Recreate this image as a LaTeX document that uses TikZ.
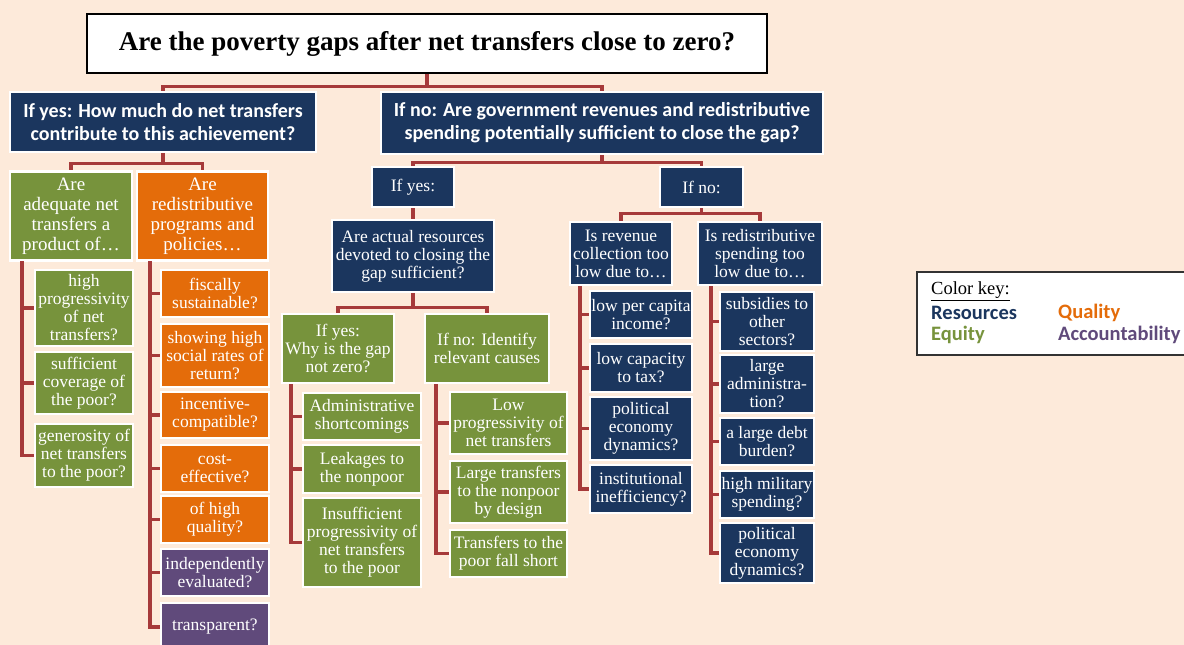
\documentclass[tikz,border=0pt]{standalone}
\usepackage{fontspec}
\setmainfont{Liberation Serif}
\newfontfamily\headfont{Carlito}
\usetikzlibrary{positioning}
\definecolor{peach}{HTML}{FDEADA}
\definecolor{navyq}{HTML}{1B365E}
\definecolor{greenq}{HTML}{77933C}
\definecolor{orangeq}{HTML}{E46C0A}
\definecolor{purpleq}{HTML}{604A7B}
\definecolor{linkred}{RGB}{166,58,58}
\tikzset{
  rootbox/.style={
    draw=black,
    fill=white,
    line width=2.8pt,
    align=center,
    inner sep=2pt,
    font=\bfseries\fontsize{27}{30}\selectfont
  },
  headbox/.style={
    draw=white,
    fill=navyq,
    line width=2.5pt,
    align=center,
    text=white,
    inner sep=1pt,
    font=\headfont\bfseries\fontsize{20}{23}\selectfont
  },
  qbox/.style={
    draw=white,
    line width=2.5pt,
    align=center,
    text=white,
    inner sep=1pt,
    font=\fontsize{17.5}{18}\selectfont
  },
  navybox/.style={qbox, fill=navyq},
  greenbox/.style={qbox, fill=greenq},
  orangebox/.style={qbox, fill=orangeq},
  purplebox/.style={qbox, fill=purpleq},
  bigq/.style={font=\fontsize{19}{20}\selectfont},
  keyframe/.style={
    draw=black!80,
    fill=white,
    line width=1.4pt
  },
  keylabel/.style={
    anchor=west,
    inner sep=0pt,
    font=\headfont\bfseries\fontsize{20.5}{22}\selectfont
  },
  link/.style={
    draw=linkred,
    line width=3.4pt
  }
}

\begin{document}
\begin{tikzpicture}[x=1pt,y=-1pt]
  \fill[peach] (0,0) rectangle (1184,645);
  \useasboundingbox (0,0) rectangle (1184,645);

  % top question
  \node[rootbox, minimum width=680pt, minimum height=59pt] (root) at (427,43.5)
    {Are the poverty gaps after net transfers close to zero?};
  \node[headbox, minimum width=306pt, minimum height=60pt] (yeshead) at (163,122)
    {If yes: How much do net transfers\\contribute to this achievement?};
  \node[headbox, minimum width=442pt, minimum height=62pt] (nohead) at (602,123)
    {If no: Are government revenues and redistributive\\spending potentially sufficient to close the gap?};

  % left branch
  \node[greenbox, bigq, minimum width=122pt, minimum height=89pt] (adequate) at (71,216)
    {Are\\adequate net\\transfers a\\product of\ldots};
  \node[orangebox, bigq, minimum width=131pt, minimum height=89pt] (redist) at (202.5,216)
    {Are\\redistributive\\programs and\\policies\ldots};
  \node[greenbox, minimum width=98pt, minimum height=76pt] (progr) at (84,308)
    {high\\progressivity\\of net\\transfers?};
  \node[greenbox, minimum width=98pt, minimum height=62pt] (coverage) at (84,383)
    {sufficient\\coverage of\\the poor?};
  \node[greenbox, minimum width=98pt, minimum height=63pt] (generosity) at (84,455.5)
    {generosity of\\net transfers\\to the poor?};
  \node[orangebox, minimum width=108pt, minimum height=47pt] (fiscal) at (215,293.5)
    {fiscally\\sustainable?};
  \node[orangebox, minimum width=108pt, minimum height=63pt] (returns) at (215,355.5)
    {showing high\\social rates of\\return?};
  \node[orangebox, minimum width=108pt, minimum height=46pt] (incentive) at (215,415)
    {incentive-\\compatible?};
  \node[orangebox, minimum width=108pt, minimum height=47pt] (costeff) at (215,468.5)
    {cost-\\effective?};
  \node[orangebox, minimum width=108pt, minimum height=47pt] (highq) at (215,519.5)
    {of high\\quality?};
  \node[purplebox, minimum width=108pt, minimum height=47pt] (evaluated) at (215,572.5)
    {independently\\evaluated?};
  \node[purplebox, minimum width=108pt, minimum height=48pt] (transparent) at (215,627)
    {transparent?};

  % right branch, if yes
  \node[navybox, minimum width=82pt, minimum height=40pt] (ifyes) at (413,187) {If yes:};
  \node[navybox, minimum width=162pt, minimum height=72pt] (actual) at (413,256)
    {Are actual resources\\devoted to closing the\\gap sufficient?};
  \node[greenbox, minimum width=112pt, minimum height=69pt] (whynot) at (338,348.5)
    {If yes:\\Why is the gap\\not zero?};
  \node[greenbox, minimum width=124pt, minimum height=69pt] (identify) at (487,348.5)
    {If no: Identify\\relevant causes};
  \node[greenbox, minimum width=118pt, minimum height=47pt] (admin) at (362,416.5)
    {Administrative\\shortcomings};
  \node[greenbox, minimum width=118pt, minimum height=48pt] (leakage) at (362,469)
    {Leakages to\\the nonpoor};
  \node[greenbox, minimum width=118pt, minimum height=89pt] (insuff) at (362,542.5)
    {Insufficient\\progressivity of\\net transfers\\to the poor};
  \node[greenbox, minimum width=117pt, minimum height=62pt] (lowprog) at (508.5,423)
    {Low\\progressivity of\\net transfers};
  \node[greenbox, minimum width=117pt, minimum height=62pt] (large) at (508.5,492)
    {Large transfers\\to the nonpoor\\by design};
  \node[greenbox, minimum width=117pt, minimum height=47pt] (short) at (508.5,553.5)
    {Transfers to the\\poor fall short};

  % right branch, if no
  \node[navybox, minimum width=83pt, minimum height=40pt] (ifno) at (701.5,187) {If no:};
  \node[navybox, minimum width=102pt, minimum height=63pt] (revenue) at (621,253.5)
    {Is revenue\\collection too\\low due to\ldots};
  \node[navybox, minimum width=124pt, minimum height=63pt] (spending) at (760,253.5)
    {Is redistributive\\spending too\\low due to\ldots};
  \node[navybox, minimum width=102pt, minimum height=47pt] (income) at (641,314.5)
    {low per capita\\income?};
  \node[navybox, minimum width=102pt, minimum height=48pt] (capacity) at (641,368)
    {low capacity\\to tax?};
  \node[navybox, minimum width=102pt, minimum height=63pt] (polrev) at (641,428.5)
    {political\\economy\\dynamics?};
  \node[navybox, minimum width=102pt, minimum height=48pt] (inst) at (641,489)
    {institutional\\inefficiency?};
  \node[navybox, minimum width=94pt, minimum height=59pt] (subsidies) at (767,321.5)
    {subsidies to\\other\\sectors?};
  \node[navybox, minimum width=94pt, minimum height=58pt] (adminsize) at (767,384)
    {large\\administra-\\tion?};
  \node[navybox, minimum width=94pt, minimum height=47pt] (debt) at (767,441.5)
    {a large debt\\burden?};
  \node[navybox, minimum width=94pt, minimum height=47pt] (military) at (767,494.5)
    {high military\\spending?};
  \node[navybox, minimum width=94pt, minimum height=60pt] (polspend) at (767,553)
    {political\\economy\\dynamics?};

  % tree connectors
  \draw[link] (root.south) -- ++(0,12) -| (yeshead.north);
  \draw[link] (root.south) -- ++(0,12) -| (nohead.north);
  \draw[link] (yeshead.south) -- ++(0,10) -| (adequate.north);
  \draw[link] (yeshead.south) -- ++(0,10) -| (redist.north);
  \draw[link] (nohead.south) -- ++(0,7) -| (ifyes.north);
  \draw[link] (nohead.south) -- ++(0,7) -| (ifno.north);
  \draw[link] (ifyes.south) -- (actual.north);
  \draw[link] (actual.south) -- ++(0,14) -| (whynot.north);
  \draw[link] (actual.south) -- ++(0,14) -| (identify.north);
  \draw[link] (ifno.south) -- ++(0,5) -| (revenue.north);
  \draw[link] (ifno.south) -- ++(0,5) -| (spending.north);

  % side stems
  \coordinate (gstem) at (22,261);
  \coordinate (ostem) at (150,261);
  \coordinate (wstem) at (291,384);
  \coordinate (istem) at (436,384);
  \coordinate (rstem) at (580,286);
  \coordinate (sstem) at (711,286);
  \draw[link] (gstem) |- (progr.west);
  \draw[link] (gstem) |- (coverage.west);
  \draw[link] (gstem) |- (generosity.west);
  \draw[link] (ostem) |- (fiscal.west);
  \draw[link] (ostem) |- (returns.west);
  \draw[link] (ostem) |- (incentive.west);
  \draw[link] (ostem) |- (costeff.west);
  \draw[link] (ostem) |- (highq.west);
  \draw[link] (ostem) |- (evaluated.west);
  \draw[link] (ostem) |- (transparent.west);
  \draw[link] (wstem) |- (admin.west);
  \draw[link] (wstem) |- (leakage.west);
  \draw[link] (wstem) |- (insuff.west);
  \draw[link] (istem) |- (lowprog.west);
  \draw[link] (istem) |- (large.west);
  \draw[link] (istem) |- (short.west);
  \draw[link] (rstem) |- (income.west);
  \draw[link] (rstem) |- (capacity.west);
  \draw[link] (rstem) |- (polrev.west);
  \draw[link] (rstem) |- (inst.west);
  \draw[link] (sstem) |- (subsidies.west);
  \draw[link] (sstem) |- (adminsize.west);
  \draw[link] (sstem) |- (debt.west);
  \draw[link] (sstem) |- (military.west);
  \draw[link] (sstem) |- (polspend.west);

  % colour key
  \node[keyframe, minimum width=275pt, minimum height=83pt] (key) at (1054.5,313.5) {};
  \node[anchor=west, inner sep=0pt, font=\fontsize{18.5}{20}\selectfont] (keytitle) at (931,291)
    {\underline{Color key:}};
  \node[keylabel, text=navyq] (keyres) at (931,312.5) {Resources};
  \node[keylabel, text=orangeq] (keyqual) at (1058,312.5) {Quality};
  \node[keylabel, text=greenq] (keyeq) at (931,334.5) {Equity};
  \node[keylabel, text=purpleq] (keyacc) at (1058,334.5) {Accountability};
\end{tikzpicture}
\end{document}
